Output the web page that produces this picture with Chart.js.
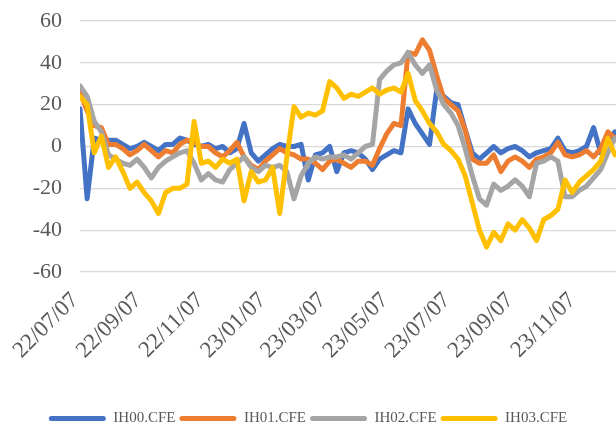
<!DOCTYPE html>
<html>
<head>
<meta charset="utf-8">
<script src="https://cdn.jsdelivr.net/npm/chart.js@4.4.1/dist/chart.umd.min.js"></script>
<style>
  html, body { margin: 0; padding: 0; background: #fff; overflow: hidden; }
  #wrap { width: 616px; height: 436px; }
</style>
</head>
<body>
<div id="wrap"><canvas id="basisChart"></canvas></div>
<script>
// days since 2022-07-07, one sample per week
const days = [
  0, 7, 14, 21, 28, 35, 42, 49, 56, 63,
  70, 77, 84, 91, 98, 105, 112, 119, 126, 133,
  140, 147, 154, 161, 168, 175, 182, 189, 196, 203,
  210, 217, 224, 231, 238, 245, 252, 259, 266, 273,
  280, 287, 294, 301, 308, 315, 322, 329, 336, 343,
  350, 357, 364, 371, 378, 385, 392, 399, 406, 413,
  420, 427, 434, 441, 448, 455, 462, 469, 476, 483,
  490, 497, 504, 511, 518, 525, 532
];

const seriesNames = ['IH00.CFE', 'IH01.CFE', 'IH02.CFE', 'IH03.CFE'];

const ih00 = [
  18, -25, 4, 3, 3, 3, 1, -1, 0, 2,
  0, -2, 1, 1, 4, 3, 1, 0, 1, -1,
  0, -3, -1, 11, -3, -7, -4, -1, 1, 0,
  0, 1, -16, -4, -3, 0, -12, -3, -2, -3,
  -6, -11, -6, -4, -2, -3, 18, 11, 6, 1,
  27, 24, 21, 20, 8, -3, -6, -3, 0, -3,
  -1, 0, -2, -5, -3, -2, -1, 4, -2, -3,
  -2, 0, 9, -3, 3, 7, 5
];
const ih01 = [
  26, 17, 10, 9, 1, 1, -1, -4, -2, 1,
  -2, -5, -2, -3, 1, 3, 2, 0, 0, -3,
  -5, -2, 2, -5, -9, -11, -7, -4, -1, -3,
  -4, -6, -6, -8, -11, -7, -6, -8, -10, -7,
  -7, -9, -1, 6, 11, 10, 45, 44, 51, 46,
  34, 23, 20, 17, 8, -6, -8, -8, -4, -12,
  -7, -5, -7, -10, -6, -5, -3, 2, -4, -5,
  -4, -2, -5, -1, 7, 4, 2
];
const ih02 = [
  29, 24, 12, 7, -4, -6, -8, -9, -6, -10,
  -15, -10, -7, -5, -3, -2, -8, -16, -13, -16,
  -17, -11, -8, -5, -10, -12, -9, -10, -9, -12,
  -25, -14, -8, -5, -6, -5, -5, -4, -6, -3,
  0, 1, 32, 36, 39, 40, 45, 39, 35, 39,
  27, 20, 16, 10, -1, -14, -25, -28, -18, -21,
  -19, -16, -19, -24, -8, -7, -5, -7, -24, -24,
  -21, -19, -15, -11, -3, 4, 2
];
const ih03 = [
  24, 20, -3, 5, -10, -5, -12, -20, -17, -22,
  -26, -32, -22, -20, -20, -18, 12, -8, -7, -10,
  -6, -8, -6, -26, -12, -17, -16, -10, -32, -5,
  19, 14, 16, 15, 17, 31, 28, 23, 25, 24,
  26, 28, 25, 27, 28, 26, 35, 22, 17, 11,
  7, 1, -2, -6, -14, -27, -40, -48, -41, -45,
  -37, -40, -35, -39, -45, -35, -33, -30, -16, -22,
  -17, -14, -11, -7, 4, -4, -3
];

// x-axis ticks: every second month from 2022-07-07
const tickDays = [0, 62, 123, 184, 243, 304, 365, 427, 488];
const tickLabels = ['22/07/07', '22/09/07', '22/11/07', '23/01/07', '23/03/07',
                    '23/05/07', '23/07/07', '23/09/07', '23/11/07'];
const yTicks = [-60, -40, -20, 0, 20, 40, 60];

const colors = ['#4472C4', '#ED7D31', '#A5A5A5', '#FFC000'];

function toPoints(vals) {
  return vals.map((v, i) => ({ x: days[i], y: v }));
}

Chart.defaults.font.family = "'Liberation Serif', serif";
Chart.defaults.color = '#595959';

const allSeries = [ih00, ih01, ih02, ih03];

new Chart(document.getElementById('basisChart').getContext('2d'), {
  type: 'line',
  data: {
    datasets: allSeries.map((vals, i) => ({
      label: seriesNames[i],
      data: toPoints(vals),
      borderColor: colors[i],
      backgroundColor: colors[i],
      borderWidth: 5,
      pointRadius: 0,
      tension: 0,
      borderJoinStyle: 'round',
      borderCapStyle: 'round',
      order: 3 - i // later series on top, like excel
    }))
  },
  options: {
    responsive: true,
    maintainAspectRatio: false,
    animation: false,
    events: [],
    layout: { padding: 0 },
    plugins: {
      legend: {
        position: 'bottom',
        labels: {
          boxWidth: 57,
          boxHeight: 5,
          padding: 4,
          useBorderRadius: true,
          borderRadius: 2.5,
          font: { size: 15 },
          color: '#595959',
          sort: (a, b) => a.datasetIndex - b.datasetIndex,
          generateLabels: (chart) =>
            Chart.defaults.plugins.legend.labels.generateLabels(chart)
              .map(l => ({ ...l, lineWidth: 0 }))
        }
      },
      tooltip: { enabled: false }
    },
    scales: {
      x: {
        type: 'linear',
        min: 0,
        max: 526,
        grid: { display: false },
        border: { display: false },
        afterBuildTicks: (scale) => {
          scale.ticks = tickDays.map(v => ({ value: v }));
        },
        afterFit: (scale) => { scale.height = 135; },
        ticks: {
          autoSkip: false,
          maxRotation: 45,
          minRotation: 45,
          padding: 7,
          labelOffset: -5,
          font: { size: 23 },
          color: '#595959',
          callback: (v) => tickLabels[tickDays.indexOf(v)]
        }
      },
      y: {
        min: -60,
        max: 60,
        afterFit: (scale) => {
          scale.width = 80;
          // tick padding would otherwise push the plot top down
          scale.paddingTop = 21;
          scale.paddingBottom = 0;
        },
        afterBuildTicks: (scale) => {
          scale.ticks = yTicks.map(v => ({ value: v }));
        },
        grid: { color: '#D9D9D9', lineWidth: 1.2, drawTicks: false },
        border: { display: false },
        ticks: {
          padding: 18,
          font: { size: 22 },
          color: '#595959'
        }
      }
    }
  }
});
</script>
</body>
</html>
